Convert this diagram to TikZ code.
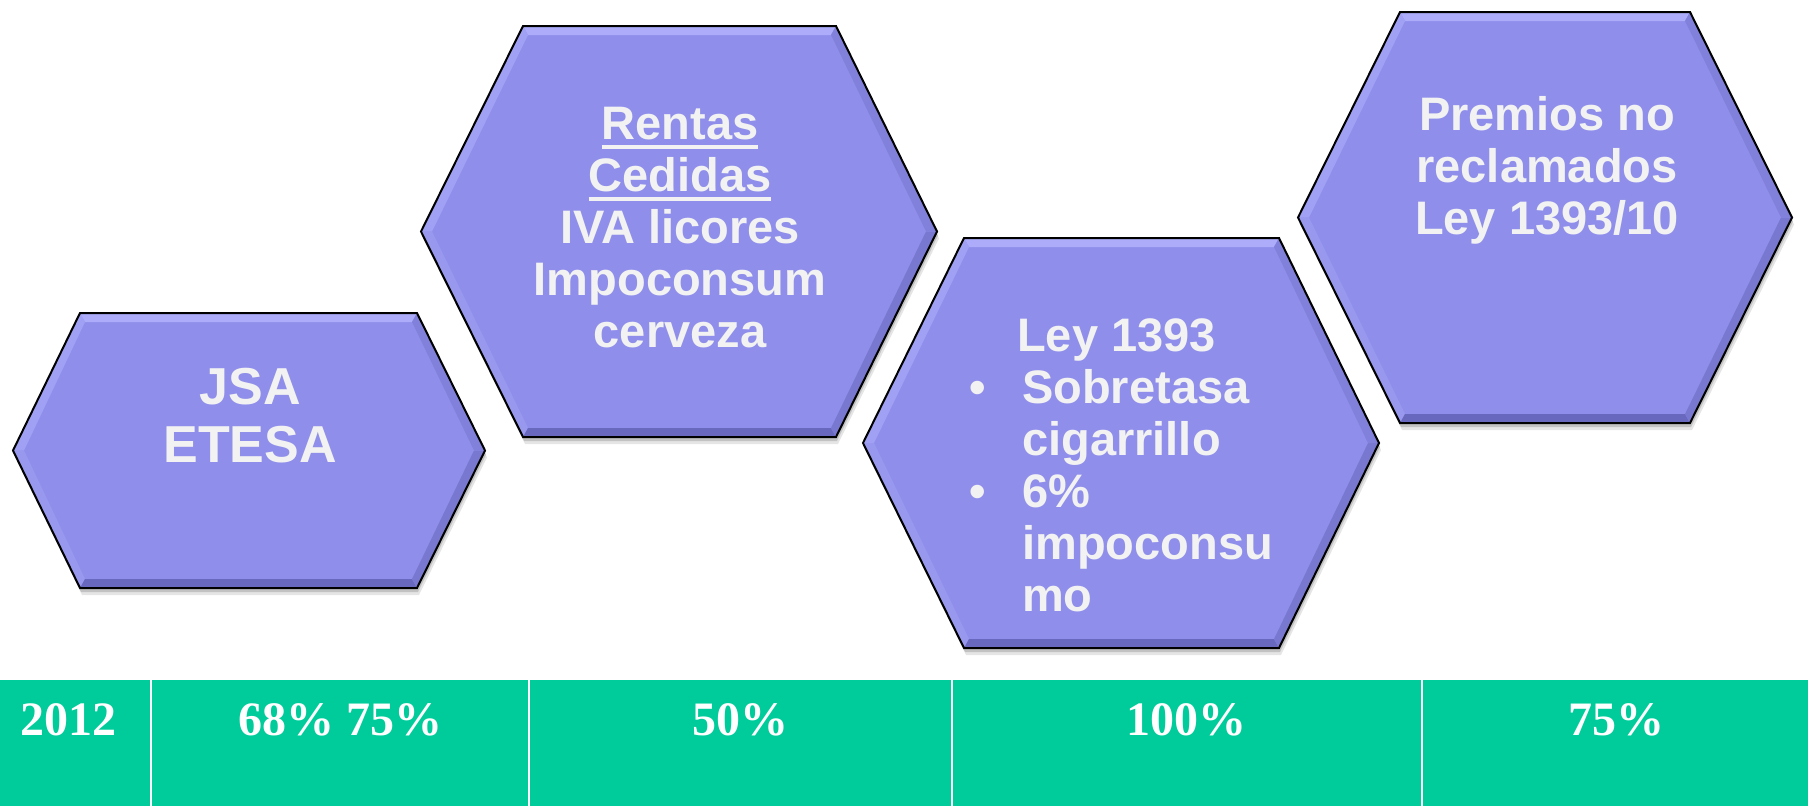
\documentclass[tikz,border=0pt]{standalone}
\usepackage{fontspec}
\setmainfont{Liberation Sans}
\newfontfamily\tablefont{Liberation Serif}
\definecolor{hexfill}{RGB}{143,143,235}
\definecolor{hexlight}{RGB}{172,172,250}
\definecolor{hexdark}{RGB}{104,104,190}
\definecolor{bandgreen}{RGB}{0,204,155}
\definecolor{txtwhite}{RGB}{242,242,242}
\newcommand\myul[1]{\leavevmode\setbox0\hbox{#1}\rlap{\rule[-9pt]{\wd0}{4pt}}\box0}
% args: xl xtl xtr xr yt yb
\newcommand\hexshape[6]{%
 \pgfmathsetmacro\yc{(#5+#6)/2}
 \begin{scope}[shift={(2,7)}]
  \fill[black,opacity=0.10] (#1,\yc) -- (#2,#5) -- (#3,#5) -- (#4,\yc) -- (#3,#6) -- (#2,#6) -- cycle;
 \end{scope}
 \begin{scope}[shift={(1,4)}]
  \fill[black,opacity=0.15] (#1,\yc) -- (#2,#5) -- (#3,#5) -- (#4,\yc) -- (#3,#6) -- (#2,#6) -- cycle;
 \end{scope}
 \fill[hexfill] (#1,\yc) -- (#2,#5) -- (#3,#5) -- (#4,\yc) -- (#3,#6) -- (#2,#6) -- cycle;
 \fill[hexlight] (#2,#5) -- (#3,#5) -- (#3-5,#5+9) -- (#2+5,#5+9) -- cycle;
 \fill[hexlight!60!hexfill] (#1,\yc) -- (#2,#5) -- (#2+5,#5+9) -- (#1+11,\yc) -- cycle;
 \fill[hexlight!30!hexfill] (#1,\yc) -- (#2,#6) -- (#2+5,#6-9) -- (#1+11,\yc) -- cycle;
 \fill[hexdark] (#2,#6) -- (#3,#6) -- (#3-5,#6-9) -- (#2+5,#6-9) -- cycle;
 \fill[hexdark!60!hexfill] (#4,\yc) -- (#3,#6) -- (#3-5,#6-9) -- (#4-11,\yc) -- cycle;
 \fill[hexdark!35!hexfill] (#4,\yc) -- (#3,#5) -- (#3-5,#5+9) -- (#4-11,\yc) -- cycle;
 \draw[black,line width=2,line join=miter] (#1,\yc) -- (#2,#5) -- (#3,#5) -- (#4,\yc) -- (#3,#6) -- (#2,#6) -- cycle;
}
\begin{document}
\begin{tikzpicture}[x=1pt,y=-1pt,
  hextext/.style={text=txtwhite,inner sep=0pt,align=center,font=\bfseries\fontsize{47}{52}\selectfont},
  celltext/.style={text=white,inner sep=0pt,anchor=base,font=\tablefont\bfseries\fontsize{48}{52}\selectfont},
  sepline/.style={white,line width=2}]
\useasboundingbox (0,0) rectangle (1808,806);
\fill[white] (0,0) rectangle (1808,806);

% hexagons
\hexshape{13}{80}{417}{485}{313}{588}
\coordinate (h1) at (249,450);
\hexshape{421}{523}{836}{937}{26}{437}
\coordinate (h2) at (679,231);
\hexshape{863}{964}{1279}{1379}{238}{648}
\coordinate (h3) at (1121,443);
\hexshape{1298}{1400}{1690}{1792}{12}{423}
\coordinate (h4) at (1545,217);

% hexagon texts
\node[hextext,anchor=north,font=\bfseries\fontsize{52}{58}\selectfont] (t1) at (250,368) {JSA\\ETESA};
\node[hextext,anchor=north] (t2) at (680,107) {\myul{Rentas}\\\myul{Cedidas}\\IVA licores\\Impoconsum\\cerveza};
\node[hextext,anchor=north west,align=left] (t3) at (969,318)
  {\hspace*{48pt}Ley 1393\\
   \makebox[53pt][l]{•}Sobretasa\\
   \hspace*{53pt}cigarrillo\\
   \makebox[53pt][l]{•}6\%\\
   \hspace*{53pt}impoconsu\\
   \hspace*{53pt}mo};
\node[hextext,anchor=north] (t4) at (1547,96) {Premios no\\reclamados\\Ley 1393/10};

% bottom band
\fill[bandgreen] (0,680) rectangle (1808,806);
\coordinate (s1t) at (151,680); \coordinate (s1b) at (151,806);
\coordinate (s2t) at (529,680); \coordinate (s2b) at (529,806);
\coordinate (s3t) at (952,680); \coordinate (s3b) at (952,806);
\coordinate (s4t) at (1422,680); \coordinate (s4b) at (1422,806);
\draw[sepline] (s1t) -- (s1b);
\draw[sepline] (s2t) -- (s2b);
\draw[sepline] (s3t) -- (s3b);
\draw[sepline] (s4t) -- (s4b);

\node[celltext] (c1) at (68,735) {2012};
\node[celltext] (c2) at (340,735) {68\% 75\%};
\node[celltext] (c3) at (740,735) {50\%};
\node[celltext] (c4) at (1186,735) {100\%};
\node[celltext] (c5) at (1616,735) {75\%};
\end{tikzpicture}
\end{document}
